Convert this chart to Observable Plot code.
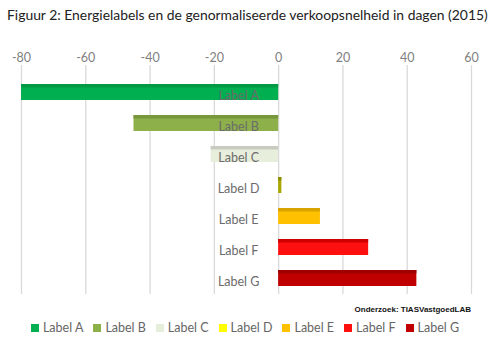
<!DOCTYPE html>
<html>
<head>
<meta charset="utf-8">
<script src="https://cdn.jsdelivr.net/npm/d3@7"></script>
<script src="https://cdn.jsdelivr.net/npm/@observablehq/plot@0.6"></script>
<style>
  html, body { margin: 0; padding: 0; background: #fff; }
  body { width: 500px; height: 345px; position: relative; overflow: hidden; font-family: Lato, "Open Sans", sans-serif; }
  #title { position: absolute; left: 7px; top: 6px; font-size: 13.9px; color: #222; white-space: nowrap; }
  #chart { position: absolute; left: 0; top: 30px; }
  #caption { position: absolute; right: 29px; top: 305px; font-family: "Liberation Sans", Arial, sans-serif; font-weight: bold; font-size: 8px; color: #111; }
  #legend { position: absolute; left: 0; width: 490px; top: 320px; display: flex; justify-content: center; gap: 10px; font-size: 12.5px; color: #666; }
  #legend span.sw { display: inline-block; width: 8px; height: 8px; margin-right: 4px; vertical-align: 0px; }
</style>
</head>
<body>
<div id="title">Figuur 2: Energielabels en de genormaliseerde verkoopsnelheid in dagen (2015)</div>
<div id="chart"></div>
<div id="caption">Onderzoek: TIASVastgoedLAB</div>
<div id="legend"></div>
<script>
const labels = ["Label A", "Label B", "Label C", "Label D", "Label E", "Label F", "Label G"];
const values = [-80, -45, -21, 1, 13, 28, 43];
const colors = ["#00B050", "#8DB04B", "#E8EEDC", "#A8A800", "#FFC000", "#FF1010", "#C00000"];
const legendColors = ["#00B050", "#8DB04B", "#E8EEDC", "#FFFF00", "#FFC000", "#FF1010", "#C00000"];
const topColors = ["#009A44", "#78963C", "#C8CCC0", "#8C8C00", "#D9A300", "#D00000", "#A00000"];
const xTicks = [-80, -60, -40, -20, 0, 20, 40, 60];

const data = labels.map((l, i) => ({label: l, value: values[i], color: colors[i], top: topColors[i]}));

const chart = Plot.plot({
  width: 500,
  height: 270,
  marginLeft: 21,
  marginRight: 29,
  marginTop: 35,
  marginBottom: 6,
  style: {fontFamily: "Lato, 'Open Sans', sans-serif", fontSize: "12px", background: "transparent"},
  x: {domain: [-80, 60], ticks: xTicks, axis: null, label: null},
  y: {domain: labels, paddingInner: 0.5, paddingOuter: 0.25, insetTop: 11, axis: null, label: null},
  marks: [
    Plot.ruleX(xTicks, {stroke: "#D9D9D9", strokeWidth: 1.3}),
    Plot.axisX({anchor: "top", ticks: xTicks, tickSize: 0, tickPadding: 4, fill: "#7F7F7F", fontSize: 12.5, label: null, tickFormat: d => String(d)}),
    Plot.barX(data, {y: "label", x1: 0, x2: "value", fill: "color"}),
    Plot.barX(data, {y: "label", x1: 0, x2: "value", fill: "top", insetBottom: 12.5}),
    Plot.text(data, {y: "label", x: () => 0, text: "label", dx: -40, dy: 3, fill: "#6B6B6B", fontSize: 12.5, textAnchor: "middle"})
  ]
});
document.getElementById("chart").appendChild(chart);

const legend = document.getElementById("legend");
labels.forEach((l, i) => {
  const item = document.createElement("div");
  item.innerHTML = `<span class="sw" style="background:${legendColors[i]}"></span>${l}`;
  legend.appendChild(item);
});
</script>
</body>
</html>
